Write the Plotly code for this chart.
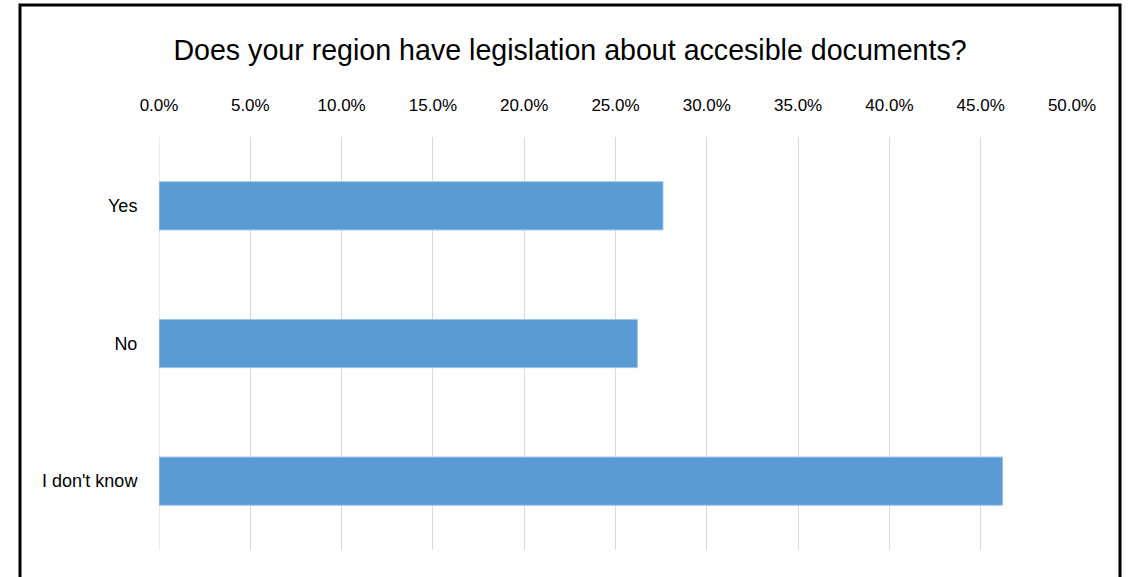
import plotly.graph_objects as go

categories = ["Yes", "No", "I don't know"]
shares = [0.276, 0.262, 0.462]
tick_vals = [0.0, 0.05, 0.10, 0.15, 0.20, 0.25, 0.30, 0.35, 0.40, 0.45, 0.50]

fig = go.Figure()
fig.add_trace(go.Bar(
    x=shares, y=categories, orientation="h",
    marker=dict(color="#5B9BD5", line=dict(color="#9DC3E6", width=1)),
    hoverinfo="skip",
))

W, H = 1128, 577
L, R, T, B = 159, 56, 137, 27
pw, ph = W - L - R, H - T - B

def px_x(x):
    return (x - L) / pw

def px_y(y):
    return (H - B - y) / ph

fig.update_layout(
    width=W, height=H,
    margin=dict(l=L, r=R, t=T, b=B),
    paper_bgcolor="white", plot_bgcolor="white",
    bargap=0.65,
    showlegend=False,
    title=dict(
        text="Does your region have legislation about accesible documents?",
        x=570 / W, xanchor="center", y=1 - 50 / H, yanchor="middle",
        font=dict(family="Liberation Sans", size=28.6, color="#000000"),
    ),
    xaxis=dict(
        side="top", range=[tick_vals[0], tick_vals[-1]], tickvals=tick_vals, tickformat=".1%",
        showgrid=True, gridcolor="#D9D9D9", gridwidth=1, zeroline=False,
        showline=False, ticks="outside", ticklen=18, tickcolor="rgba(0,0,0,0)",
        tickfont=dict(family="Liberation Sans", size=17, color="#000000"),
    ),
    yaxis=dict(
        autorange="reversed", showgrid=False, zeroline=False, showline=False,
        ticks="outside", ticklen=17, tickcolor="rgba(0,0,0,0)",
        tickfont=dict(family="Liberation Sans", size=18, color="#000000"),
    ),
    shapes=[
        dict(
            type="line", xref="x", yref="paper",
            x0=tick_vals[0], x1=tick_vals[0], y0=0, y1=1,
            line=dict(color="#D9D9D9", width=1), layer="below",
        ),
        dict(
            type="rect", xref="paper", yref="paper",
            x0=px_x(20), x1=px_x(1120), y0=px_y(600), y1=px_y(5),
            line=dict(color="#000000", width=3), fillcolor="rgba(0,0,0,0)",
            layer="above",
        ),
    ],
)

fig.write_html(
    "out.html",
    config={"displayModeBar": False},
    post_script="document.body.style.margin='0';document.body.style.overflow='hidden';",
)
